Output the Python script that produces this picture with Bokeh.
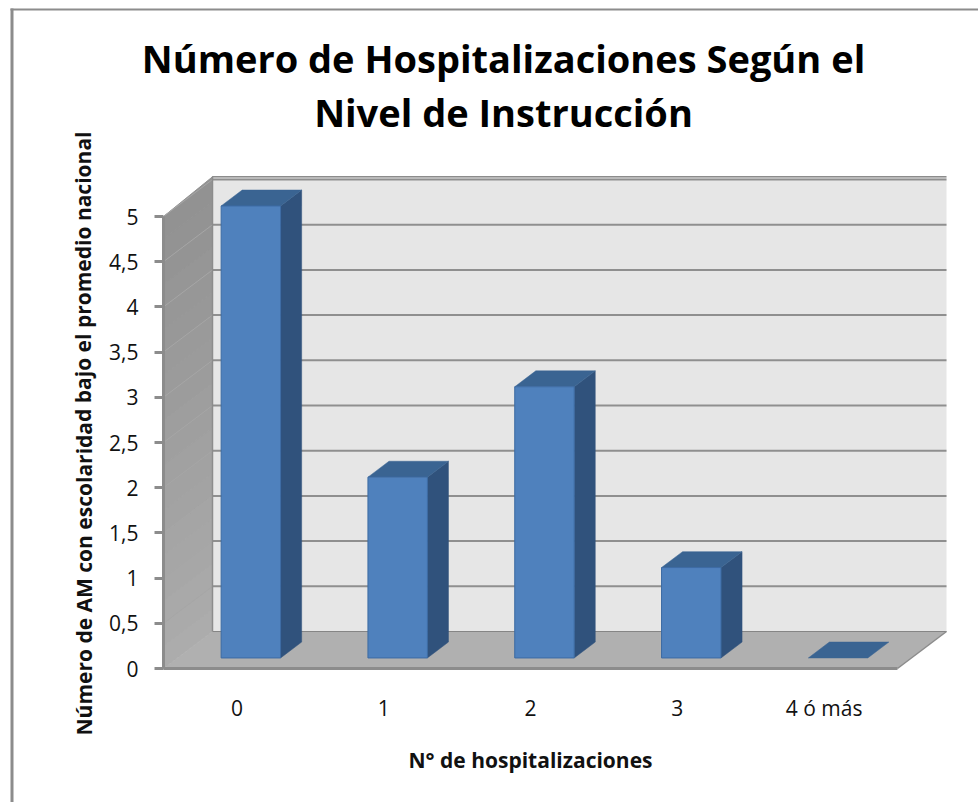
from bokeh.plotting import figure
from bokeh.models import Range1d, FixedTicker, Label, LinearAxis, BoxAnnotation
from bokeh.embed import file_html
from bokeh.resources import INLINE

title_lines = ["Número de Hospitalizaciones Según el", "Nivel de Instrucción"]
categories = ["0", "1", "2", "3", "4 ó más"]
values = [5, 2, 3, 1, 0]
y_ticks = [0, 0.5, 1, 1.5, 2, 2.5, 3, 3.5, 4, 4.5, 5]
y_labels = ["0", "0,5", "1", "1,5", "2", "2,5", "3", "3,5", "4", "4,5", "5"]
y_title = "Número de AM con escolaridad bajo el promedio nacional"
x_title = "N° de hospitalizaciones"

FONT = "Open Sans"
W, H = 978, 802
OX, OY = 163, 668                   # canvas position of the data origin
PX_X, PX_Y = 146.8, 90.4            # pixels per category / per unit
DX, DY = 49 / PX_X, 37 / PX_Y       # depth of the 3-D box in data units
BAR_W, F1, F2 = 0.405, 0.285, 0.715 # bar width, bar front/back depth fractions
N, TOP = len(categories), y_ticks[-1]

p = figure(width=W, height=H, output_backend="svg", toolbar_location=None,
           x_axis_type=None, y_axis_type=None,
           x_range=Range1d(-OX / PX_X, (W - OX) / PX_X), y_range=Range1d(-(H - OY) / PX_Y, OY / PX_Y),
           min_border=0, outline_line_color=None, background_fill_color="white", border_fill_color="white")
p.grid.visible = False

# back wall
p.patch([DX, N + DX, N + DX, DX], [DY, DY, TOP + DY + 0.03, TOP + DY + 0.03], fill_color="#e6e6e6", line_color=None)
# side wall, shaded in strips from dark (top) to light (bottom)
STRIPS = 20
for i in range(STRIPS):
    a, b = TOP * i / STRIPS, TOP * (i + 1) / STRIPS
    g = int(0xAC + (0x92 - 0xAC) * i / (STRIPS - 1))
    c = f"#{g:02x}{g:02x}{g:02x}"
    p.patch([0, DX, DX, 0], [a, a + DY, b + DY + (0.03 if i == STRIPS - 1 else 0), b], fill_color=c, line_color=c, line_width=1)

# gridlines
for v in y_ticks[1:]:
    p.line([0, DX], [v, v + DY], line_color="#a6a6a6", line_width=1)
    p.line([DX, N + DX], [v + DY, v + DY], line_color="#8f8f8f", line_width=2)
# wall edges
p.line([DX, DX, N + DX], [DY, TOP + DY + 0.03, TOP + DY + 0.03], line_color="#8c8c8c", line_width=1.5)

# floor
p.patch([0, N, N + DX, DX], [0, 0, DY, DY], fill_color="#b0b0b0", line_color=None)
p.line([DX, N + DX], [DY, DY], line_color="#858585", line_width=1.2)
p.line([N, N + DX], [0, DY], line_color="#8c8c8c", line_width=1.5)

# bars
for i, v in enumerate(values):
    x0 = i + 0.5 - BAR_W / 2 + F1 * DX
    x1 = x0 + BAR_W
    y0 = F1 * DY
    ox, oy = (F2 - F1) * DX, (F2 - F1) * DY
    if v > 0:
        p.patch([x1, x1 + ox, x1 + ox, x1], [y0, y0 + oy, y0 + v + oy, y0 + v], fill_color="#30527c", line_color="#30527c", line_width=0.5)
    p.patch([x0, x1, x1 + ox, x0 + ox], [y0 + v, y0 + v, y0 + v + oy, y0 + v + oy], fill_color="#3a6492", line_color="#3a6492", line_width=0.5)
    if v > 0:
        p.quad(left=[x0], right=[x1], bottom=[y0], top=[y0 + v], fill_color="#4f81bd", line_color="#3c6ba3", line_width=1)

# axes, fixed at the data origin of the front plane
ya = LinearAxis(fixed_location=0, bounds=(0, TOP), ticker=FixedTicker(ticks=y_ticks))
ya.major_label_overrides = dict(zip(y_ticks, y_labels))
ya.axis_line_color = "#8c8c8c"
ya.axis_line_width = 3
ya.major_tick_line_color = "#8c8c8c"
ya.major_tick_line_width = 3
ya.major_tick_in = 0
ya.major_tick_out = 9
ya.minor_tick_line_color = None
ya.major_label_standoff = 16
ya.major_label_text_font = FONT
ya.major_label_text_font_size = "21px"
ya.major_label_text_color = "#111111"
p.add_layout(ya, "left")

cat_pos = [i + 0.5 for i in range(N)]
xa = LinearAxis(fixed_location=0, bounds=(0, N), ticker=FixedTicker(ticks=cat_pos))
xa.major_label_overrides = dict(zip(cat_pos, categories))
xa.axis_line_color = "#8c8c8c"
xa.axis_line_width = 3
xa.major_tick_line_color = None
xa.minor_tick_line_color = None
xa.major_label_standoff = 19
xa.major_label_text_font = FONT
xa.major_label_text_font_size = "21px"
xa.major_label_text_color = "#111111"
p.add_layout(xa, "below")

# chart title and axis titles
for txt, sy in zip(title_lines, [57, 111]):
    p.add_layout(Label(x=503, y=sy, x_units="canvas", y_units="canvas", text=txt, text_align="center",
                       text_baseline="middle", text_font=FONT, text_font_style="bold",
                       text_font_size="38px", text_color="#000000"))
p.add_layout(Label(x=530, y=759, x_units="canvas", y_units="canvas", text=x_title, text_align="center",
                   text_baseline="middle", text_font=FONT, text_font_style="bold",
                   text_font_size="21px", text_color="#111111"))
p.add_layout(Label(x=83, y=433, x_units="canvas", y_units="canvas", text=y_title, angle=1.5708,
                   text_align="center", text_baseline="middle", text_font=FONT, text_font_style="bold",
                   text_font_size="21px", text_color="#111111"))

# outer chart border
p.add_layout(BoxAnnotation(left=10, right=13, top=8, bottom=H, left_units="canvas", right_units="canvas",
                           top_units="canvas", bottom_units="canvas", fill_color="#8c8c8c", fill_alpha=1, line_color=None))
p.add_layout(BoxAnnotation(left=10, right=W, top=8, bottom=10, left_units="canvas", right_units="canvas",
                           top_units="canvas", bottom_units="canvas", fill_color="#8c8c8c", fill_alpha=1, line_color=None))

open("out.html", "w").write(file_html(p, INLINE))
